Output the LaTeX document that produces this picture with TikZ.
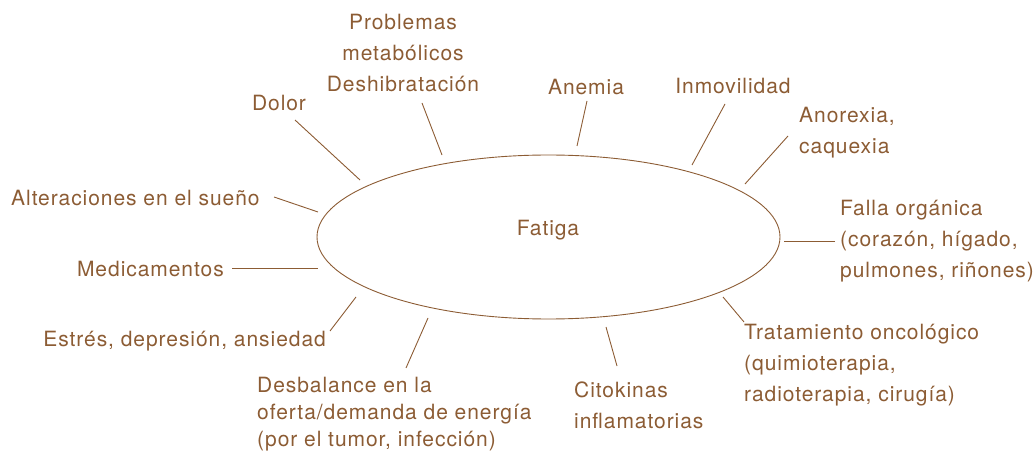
\documentclass[tikz,border=0pt]{standalone}
\usepackage{fontspec}
\setmainfont{TeX Gyre Heros}[LetterSpace=4.5]
\definecolor{brn}{RGB}{140,92,52}
\begin{document}
\begin{tikzpicture}[x=1pt,y=-1pt,
  lbl/.style={text=brn,font=\fontsize{21}{31}\selectfont,inner sep=0pt},
  con/.style={draw=brn,line width=0.9pt}]
\useasboundingbox (0,0) rectangle (1033,454);
\draw[con] (548.5,237) ellipse [x radius=231.5,y radius=82];
\node[lbl] (fat) at (548,230) {Fatiga};
\node[lbl,align=center] (prob) at (403,53) {Problemas\\metabólicos\\Deshibratación};
\node[lbl] (dol) at (279,103) {Dolor};
\node[lbl] (ane) at (586,87) {Anemia};
\node[lbl] (inm) at (733,86) {Inmovilidad};
\node[lbl,align=left,anchor=west] (ano) at (799,133) {Anorexia,\\caquexia};
\node[lbl,align=left,anchor=west] (fal) at (840,241) {Falla orgánica\\(corazón, hígado,\\pulmones, riñones)};
\node[lbl,align=left,anchor=west] (tra) at (744,365) {Tratamiento oncológico\\(quimioterapia,\\radioterapia, cirugía)};
\node[lbl,align=left,anchor=west] (cit) at (574,405) {Citokinas\\inflamatorias};
\node[lbl,align=left,anchor=west,font=\fontsize{21}{27}\selectfont] (des) at (257,414) {Desbalance en la\\oferta/demanda de energía\\(por el tumor, infección)};
\node[lbl,anchor=east] (est) at (326,341) {Estrés, depresión, ansiedad};
\node[lbl,anchor=east] (med) at (224,269) {Medicamentos};
\node[lbl,anchor=west] (alt) at (11,198) {Alteraciones en el sueño};
\coordinate (a1) at (295,120); \coordinate (b1) at (360,180);
\coordinate (a2) at (422,103); \coordinate (b2) at (442,155);
\coordinate (a3) at (587,101); \coordinate (b3) at (577,146);
\coordinate (a4) at (725,104); \coordinate (b4) at (692,165);
\coordinate (a5) at (788,136); \coordinate (b5) at (745,184);
\coordinate (a6) at (835,241); \coordinate (b6) at (784,241);
\coordinate (a7) at (744,322); \coordinate (b7) at (723,297);
\coordinate (a8) at (617,366); \coordinate (b8) at (606,327);
\coordinate (a9) at (406,368); \coordinate (b9) at (428,318);
\coordinate (a10) at (330,331); \coordinate (b10) at (356,297);
\coordinate (a11) at (232,268); \coordinate (b11) at (318,268);
\coordinate (a12) at (274,197); \coordinate (b12) at (318,212);
\foreach \i in {1,...,12} {\draw[con] (a\i) -- (b\i);}
\end{tikzpicture}
\end{document}
